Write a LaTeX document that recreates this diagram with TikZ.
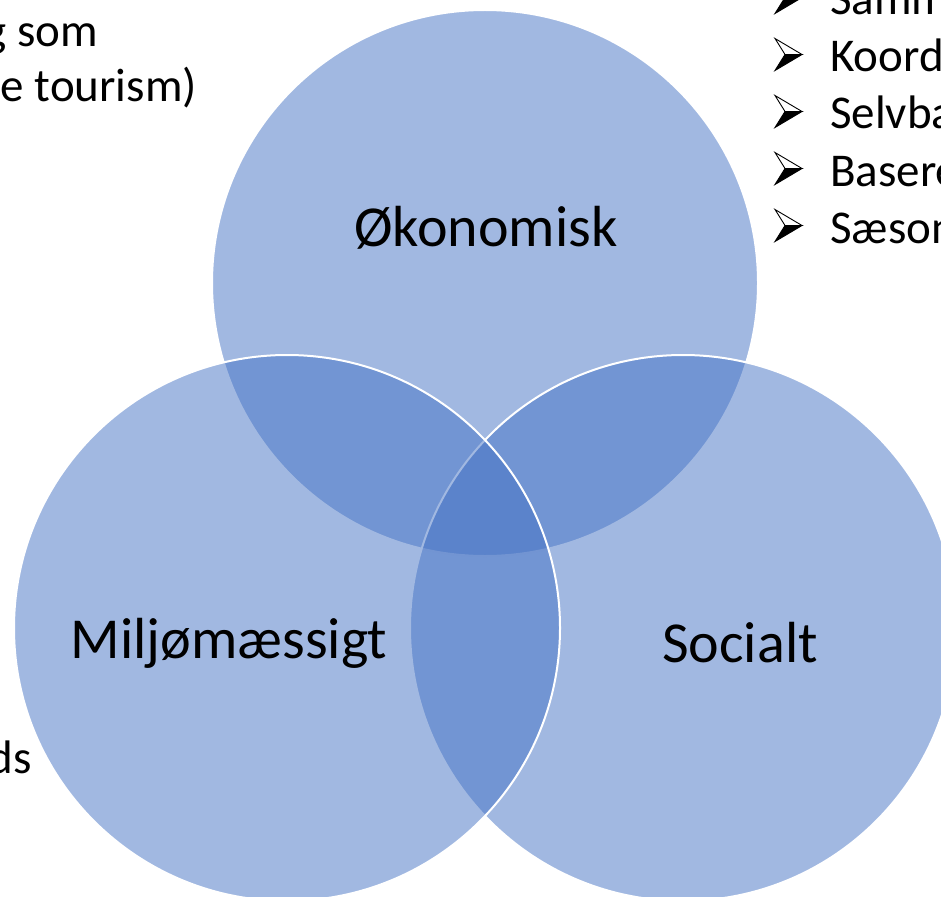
\documentclass[tikz,border=0pt]{standalone}
\usepackage{fontspec}
\setmainfont{Carlito}
\definecolor{vblue}{HTML}{4472C4}
\begin{document}
\begin{tikzpicture}[x=1pt,y=-1pt,
  circ/.style={fill=vblue, fill opacity=0.5, draw=white, line width=2pt},
  lbl/.style={font=\fontsize{58}{68}\selectfont, text=black, inner sep=0pt},
  sidetxt/.style={font=\fontsize{47}{56}\selectfont, text=black, inner sep=0pt},
  arrtop/.style={fill=white, draw=black, line width=0.9pt, line join=miter},
  arrbot/.style={fill=black, draw=black, line width=0.9pt, line join=miter}]
\useasboundingbox (0,0) rectangle (941,896);
\clip (0,0) rectangle (941,896);
\path[circ] (485,283) circle[radius=273];
\path[circ] (683,628) circle[radius=273];
\path[circ] (287,628) circle[radius=273];
\node[lbl] (eko) at (486,228) {Økonomisk};
\node[lbl] (mil) at (229,643) {Miljømæssigt};
\node[lbl] (soc) at (740,643) {Socialt};
\node[sidetxt, anchor=base east] (l1) at (98,47) {g som};
\node[sidetxt, anchor=base east] (l2) at (197,102) {e tourism)};
\node[sidetxt, anchor=base east] (l3) at (32,773) {ds};
\foreach \y/\t [count=\i] in {15/Samm,72/Koord,129/Selvba,186/Basere,243/Sæson}{
  \begin{scope}[shift={(0,\y-17.5)}]
    \path[arrtop] (775,-16) -- (802,0) -- (785,0) -- cycle;
    \path[arrbot] (785,0) -- (802,0) -- (775,16) -- cycle;
  \end{scope}
  \node[sidetxt, anchor=base west] (b\i) at (830,\y) {\t};
}
\end{tikzpicture}
\end{document}
